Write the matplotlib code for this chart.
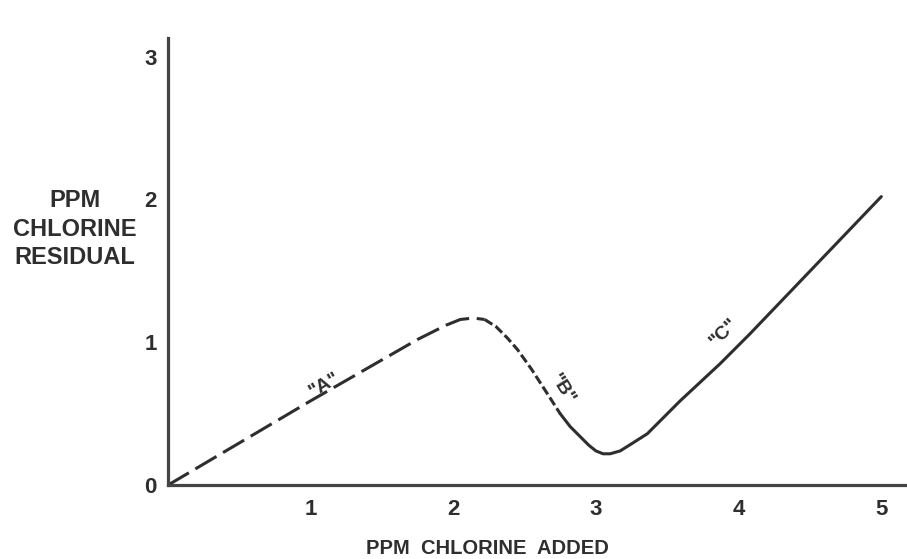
import matplotlib
matplotlib.use('Agg')
import matplotlib.pyplot as plt

# (ppm added vs ppm residual)
a_x = [0.0, 1.0, 1.75, 1.95, 2.05, 2.14, 2.22]
a_y = [0.0, 0.59, 1.02, 1.12, 1.16, 1.17, 1.16]

b_x = [2.22, 2.30, 2.38, 2.45, 2.55, 2.66, 2.75]
b_y = [1.16, 1.11, 1.03, 0.95, 0.81, 0.64, 0.50]

c_x = [2.75, 2.82, 2.89, 2.95, 3.0, 3.05, 3.1, 3.17, 3.25, 3.36, 3.47, 3.59, 3.73, 3.87, 4.08, 5.0]
c_y = [0.50, 0.41, 0.34, 0.28, 0.24, 0.22, 0.22, 0.24, 0.29, 0.36, 0.47, 0.59, 0.72, 0.85, 1.06, 2.02]

x_ticks = [1, 2, 3, 4, 5]
y_ticks = [0, 1, 2, 3]

zones = ['"A"', '"B"', '"C"']
zone_x = [1.10, 2.76, 3.90]
zone_y = [0.70, 0.67, 1.07]
zone_rot = [30, -58, 45]

ink = '#2e2e2e'
font = ['Liberation Sans Narrow', 'DejaVu Sans Condensed', 'Liberation Sans', 'DejaVu Sans']

fig = plt.figure(figsize=(9.07, 5.59), dpi=100)
ax = fig.add_axes([0.185, 0.132, 0.815, 0.80])

ax.plot(a_x, a_y, color=ink, lw=2.2, linestyle=(0, (8, 2.5)))
ax.plot(b_x, b_y, color=ink, lw=2.2, linestyle=(0, (3, 1.2)))
ax.plot(c_x, c_y, color=ink, lw=2.2, solid_capstyle='round', solid_joinstyle='round')

for txt, x, y, r in zip(zones, zone_x, zone_y, zone_rot):
    ax.text(x, y, txt, rotation=r, ha='center', va='center', fontsize=14,
            fontweight='bold', color=ink, family=font)

ax.set_xlim(0, 5.18)
ax.set_ylim(0, 3.13)
ax.spines['top'].set_visible(False)
ax.spines['right'].set_visible(False)
for s in ['left', 'bottom']:
    ax.spines[s].set_linewidth(2.3)
    ax.spines[s].set_color('#444444')

ax.set_xticks(x_ticks)
ax.set_yticks(y_ticks)
ax.tick_params(length=0, labelsize=16, colors=ink)
ax.tick_params(axis='x', pad=10)
ax.tick_params(axis='y', pad=8)
for lab in ax.get_xticklabels() + ax.get_yticklabels():
    lab.set_fontweight('bold')
    lab.set_family(font)

fig.text(487 / 907, 1 - 548 / 559, 'PPM  CHLORINE  ADDED', ha='center', va='center',
         fontsize=14.5, fontweight='bold', color=ink, family=font)
fig.text(75 / 907, 1 - 229 / 559, 'PPM\nCHLORINE\nRESIDUAL', ha='center', va='center',
         fontsize=17, fontweight='bold', color=ink, family=font, linespacing=1.3)

fig.savefig('out.png', dpi=100)
